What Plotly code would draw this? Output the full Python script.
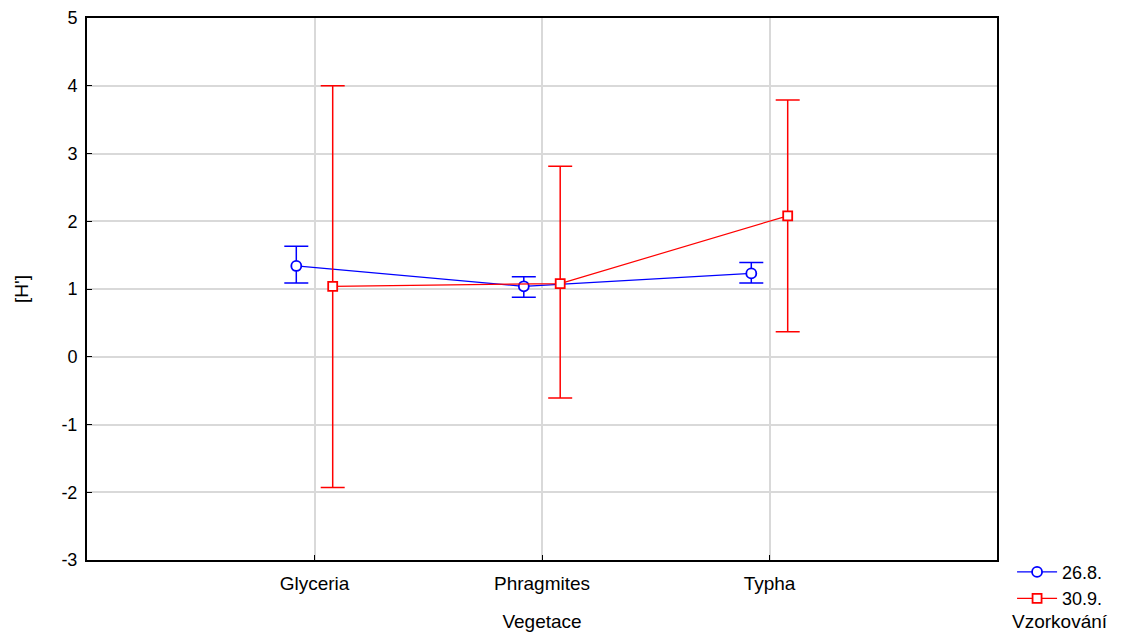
import plotly.graph_objects as go

categories = ["Glyceria", "Phragmites", "Typha"]
series_names = ["26.8.", "30.9."]
mean_268 = [1.34, 1.04, 1.23]
upper_268 = [1.63, 1.18, 1.39]
lower_268 = [1.09, 0.88, 1.09]
mean_309 = [1.04, 1.08, 2.08]
upper_309 = [4.00, 2.81, 3.79]
lower_309 = [-1.93, -0.61, 0.37]
y_ticks = [-3, -2, -1, 0, 1, 2, 3, 4, 5]

pos = [i + 1 for i in range(len(categories))]
offset = 0.08

font = "Liberation Sans, Arial, sans-serif"
fig = go.Figure()

def add(name, means, up, lo, color, symbol, shift, size):
    fig.add_trace(go.Scatter(
        x=[p + shift for p in pos], y=means, name=name, mode="lines+markers",
        line=dict(color=color, width=1.2),
        marker=dict(symbol=symbol, size=size, color="white", line=dict(color=color, width=1.8)),
        error_y=dict(type="data", symmetric=False,
                     array=[u - m for u, m in zip(up, means)],
                     arrayminus=[m - l for m, l in zip(means, lo)],
                     color=color, thickness=1.5, width=12),
    ))

add(series_names[0], mean_268, upper_268, lower_268, "#0000ff", "circle", -offset, 10)
add(series_names[1], mean_309, upper_309, lower_309, "#ff0000", "square", offset, 9)

fig.update_layout(
    width=1141, height=635,
    margin=dict(l=87, r=144, t=18, b=75, autoexpand=False),
    paper_bgcolor="white", plot_bgcolor="white",
    font=dict(family=font, size=19, color="black"),
    showlegend=True,
    legend=dict(xref="container", yref="container", x=0.887, xanchor="left",
                y=0.128, yanchor="top",
                font=dict(size=18), tracegroupgap=0, itemwidth=40,
                bgcolor="rgba(0,0,0,0)"),
    annotations=[dict(text="Vzorkování", x=1.014, xanchor="left", y=-0.114, yanchor="middle",
                      xref="paper", yref="paper", showarrow=False, font=dict(size=19))],
)
fig.update_xaxes(range=[0, 4], tickvals=pos, ticktext=categories,
                 showgrid=True, gridcolor="#d9d9d9", gridwidth=1.5,
                 showline=True, linecolor="black", linewidth=2, mirror=True,
                 ticks="inside", ticklen=5, tickcolor="black", zeroline=False,
                 tickfont=dict(size=19), ticklabelstandoff=5,
                 title=dict(text="Vegetace", standoff=22, font=dict(size=19)))
fig.update_yaxes(range=[-3, 5], tickvals=y_ticks, ticktext=[str(v) for v in y_ticks],
                 showgrid=True, gridcolor="#d9d9d9", gridwidth=1.5,
                 showline=True, linecolor="black", linewidth=2, mirror=True,
                 ticks="inside", ticklen=5, tickcolor="black", zeroline=False,
                 tickfont=dict(size=18), ticklabelstandoff=4,
                 title=dict(text="[H']", standoff=28, font=dict(size=19)))

fig.write_html("out.html", config={"displayModeBar": False},
               post_script="document.body.style.margin='0';")
